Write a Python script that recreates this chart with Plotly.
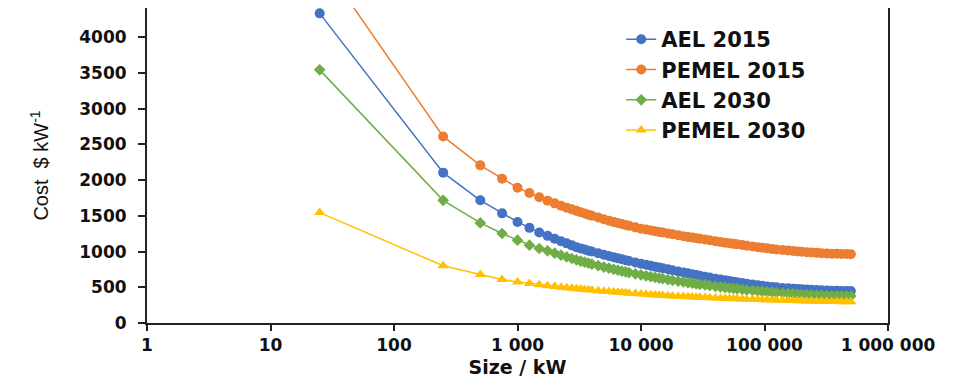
import plotly.graph_objects as go

size_kw = [25, 250, 500, 750, 1000, 1250, 1500, 1750, 2000, 2250, 2500, 2750, 3000, 3250, 3500, 3750,
           4000, 4500, 5000, 5500, 6000, 6500, 7000, 7500, 8000, 9000, 10000, 11000, 12000, 13000,
           14000, 15000, 16500, 18000, 20000, 22000, 24000, 26000, 28000, 30000, 33000, 36000, 40000,
           44000, 48000, 52000, 56000, 60000, 66000, 72000, 80000, 88000, 96000, 105000, 115000,
           125000, 140000, 155000, 170000, 185000, 200000, 220000, 240000, 265000, 290000, 320000,
           350000, 385000, 420000, 460000, 500000]

ael_2015 = [4335, 2105, 1718, 1535, 1415, 1332, 1267, 1220, 1180, 1145, 1115, 1087, 1060, 1043, 1028, 1013,
            1000, 976, 955, 937, 920, 905, 892, 880, 868, 848, 830, 815, 801, 788,
            777, 766, 752, 738, 722, 708, 695, 683, 672, 662, 648, 636, 621,
            608, 597, 587, 578, 570, 559, 549, 538, 528, 520, 512, 505,
            499, 491, 485, 480, 476, 472, 468, 465, 461, 458, 455,
            453, 451, 449, 448, 447]

pemel_2015 = [5100, 2612, 2207, 2021, 1895, 1820, 1760, 1713, 1675, 1643, 1615, 1591, 1570, 1550, 1533, 1517,
              1502, 1476, 1453, 1433, 1415, 1399, 1385, 1372, 1360, 1339, 1320, 1308, 1296, 1285,
              1275, 1266, 1254, 1243, 1228, 1216, 1205, 1196, 1187, 1179, 1168, 1158, 1146,
              1135, 1125, 1116, 1108, 1101, 1091, 1082, 1071, 1062, 1053, 1045, 1037,
              1030, 1022, 1014, 1008, 1002, 997, 992, 987, 982, 978, 974,
              971, 969, 967, 965, 964]

ael_2030 = [3544, 1718, 1401, 1253, 1160, 1090, 1043, 1010, 978, 950, 925, 903, 883, 866, 851, 837,
            824, 802, 783, 767, 752, 739, 727, 716, 706, 689, 674, 661, 649, 638,
            628, 620, 608, 598, 586, 575, 565, 557, 549, 542, 533, 524, 514,
            505, 497, 490, 484, 478, 470, 463, 455, 448, 442, 437, 431,
            426, 420, 414, 409, 405, 402, 397, 394, 390, 387, 384,
            382, 380, 379, 378, 377]

pemel_2030 = [1546, 801, 680, 610, 573, 554, 535, 522, 511, 502, 494, 487, 481, 475, 470, 465,
              461, 453, 446, 440, 435, 430, 426, 422, 418, 412, 406, 401, 397, 393,
              389, 386, 382, 378, 374, 370, 367, 364, 361, 359, 356, 353, 350,
              347, 345, 342, 340, 338, 336, 334, 331, 329, 327, 325, 323,
              321, 318, 316, 314, 312, 311, 309, 307, 305, 304, 302,
              301, 300, 299, 298, 297]

series_names = ["AEL 2015", "PEMEL 2015", "AEL 2030", "PEMEL 2030"]
series_values = [ael_2015, pemel_2015, ael_2030, pemel_2030]
series_colors = ["#4472C4", "#ED7D31", "#70AD47", "#FFC000"]
series_symbols = ["circle", "circle", "diamond", "triangle-up"]
series_msizes = [10, 10, 9, 10]

x_tickvals = [1, 10, 100, 1000, 10000, 100000, 1000000]
x_ticktext = ["1", "10", "100", "1 000", "10 000", "100 000", "1 000 000"]
y_tickvals = [0, 500, 1000, 1500, 2000, 2500, 3000, 3500, 4000]

fig = go.Figure()
for i, (name, vals, col, sym, ms) in enumerate(zip(series_names, series_values, series_colors,
                                                   series_symbols, series_msizes)):
    fig.add_trace(go.Scatter(
        x=size_kw, y=vals, name=name, mode="lines+markers",
        line=dict(color=col, width=1.5),
        marker=dict(color=col, symbol=sym, size=ms, line=dict(width=0)),
        legendgroup=f"g{i}", cliponaxis=True,
    ))

tick_font = dict(family="DejaVu Sans", size=17, color="#111", weight="bold")

fig.update_layout(
    width=960, height=372,
    margin=dict(l=139, r=80, t=0, b=57),
    paper_bgcolor="white", plot_bgcolor="white",
    font=dict(family="DejaVu Sans", color="#111"),
    showlegend=True,
    legend=dict(
        x=0.640, y=0.965, xanchor="left", yanchor="top",
        bgcolor="rgba(0,0,0,0)", borderwidth=0,
        font=dict(family="DejaVu Sans", size=21, color="#111", weight="bold"),
        tracegroupgap=0, itemwidth=30,
    ),
    xaxis=dict(
        type="log", range=[0, 6], automargin=False,
        tickvals=x_tickvals, ticktext=x_ticktext,
        showgrid=False, zeroline=False,
        showline=True, linecolor="#222", linewidth=2, mirror=True,
        ticks="outside", ticklen=6, tickwidth=2, tickcolor="#222",
        tickfont=tick_font,
        title=dict(text="Size / kW", standoff=6,
                   font=dict(family="DejaVu Sans", size=19, color="#111", weight="bold")),
    ),
    yaxis=dict(
        range=[0, 4410], automargin=False,
        tickvals=y_tickvals,
        showgrid=False, zeroline=False,
        showline=True, linecolor="#222", linewidth=2, mirror=True,
        ticks="outside", ticklen=7, tickwidth=2, tickcolor="#222",
        ticklabelstandoff=8,
        tickfont=tick_font,
        title=dict(text="Cost  $ kW<sup>-1</sup>", standoff=25,
                   font=dict(family="Liberation Sans", size=20, color="#111")),
    ),
)

fig.write_html("out.html")
